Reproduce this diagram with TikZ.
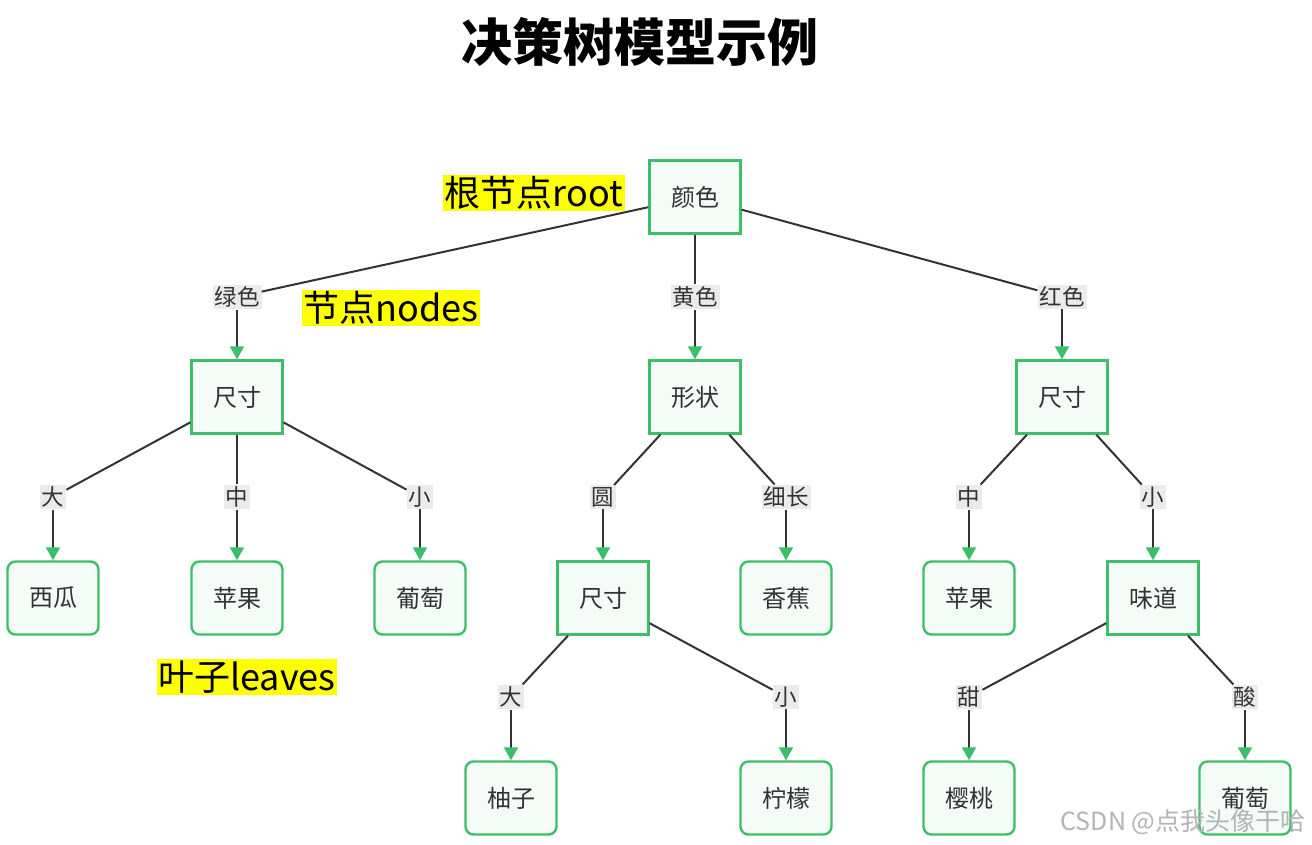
\documentclass[tikz,border=0pt]{standalone}
\usepackage{fontspec}
\setmainfont{Noto Sans CJK SC}
\usetikzlibrary{arrows.meta}
\definecolor{gline}{HTML}{3DBE6B}
\definecolor{nfill}{HTML}{F5FBF7}
\definecolor{lgray}{HTML}{EBEBEB}
\definecolor{dgray}{HTML}{333333}
\definecolor{hly}{HTML}{FFFF00}
\definecolor{wm}{HTML}{B4B4B4}
\begin{document}
\begin{tikzpicture}[x=1pt,y=-1pt,
  inner/.style={draw=gline, line width=2.4pt, fill=nfill, minimum width=91pt, minimum height=73pt, inner sep=0pt, font=\fontsize{24}{28}\selectfont, text=dgray},
  leaf/.style={inner, rounded corners=8pt},
  lab/.style={fill=lgray, inner sep=2pt, font=\fontsize{22.5}{26}\selectfont, text=dgray},
  hl/.style={fill=hly, inner sep=1.5pt, font=\fontsize{36}{40}\selectfont},
  conn/.style={draw=dgray, line width=2pt},
  arr/.style={conn, -{Triangle[length=13pt,width=14pt,color=gline]}}
]
\useasboundingbox[fill=white] (0,0) rectangle (1312,844);
\node[font=\fontsize{51}{58}\selectfont\bfseries] (title) at (640,42) {决策树模型示例};

% nodes
\node[inner] (root) at (695,197) {颜色};
\node[lab] (lg) at (237,297) {绿色};
\node[lab] (ly) at (695,297) {黄色};
\node[lab] (lr) at (1062,297) {红色};
\node[inner] (s1) at (237,397) {尺寸};
\node[inner] (sh) at (695,397) {形状};
\node[inner] (s3) at (1062,397) {尺寸};

\node[lab] (l1) at (53,497) {大};
\node[lab] (l2) at (237,497) {中};
\node[lab] (l3) at (420,497) {小};
\node[lab] (l4) at (603,497) {圆};
\node[lab] (l5) at (786,497) {细长};
\node[lab] (l6) at (969,497) {中};
\node[lab] (l7) at (1153,497) {小};

\node[leaf] (xg) at (53,598) {西瓜};
\node[leaf] (pg1) at (237,598) {苹果};
\node[leaf] (pt1) at (420,598) {葡萄};
\node[inner] (s2) at (603,598) {尺寸};
\node[leaf] (xj) at (786,598) {香蕉};
\node[leaf] (pg2) at (969,598) {苹果};
\node[inner] (wd) at (1153,598) {味道};

\node[lab] (m1) at (511,697) {大};
\node[lab] (m2) at (786,697) {小};
\node[lab] (m3) at (969,697) {甜};
\node[lab] (m4) at (1245,697) {酸};

\node[leaf] (yz) at (511,798) {柚子};
\node[leaf] (nm) at (786,798) {柠檬};
\node[leaf] (yt) at (969,798) {樱桃};
\node[leaf] (pt2) at (1245,798) {葡萄};

% connectors
\foreach \p/\l/\c in {root/lg/s1, root/ly/sh, root/lr/s3,
  s1/l1/xg, s1/l2/pg1, s1/l3/pt1, sh/l4/s2, sh/l5/xj, s3/l6/pg2, s3/l7/wd,
  s2/m1/yz, s2/m2/nm, wd/m3/yt, wd/m4/pt2}{
  \draw[conn] (\p) -- (\l);
  \draw[arr] (\l) -- (\c);
}

% highlighted annotations
\node[hl] (hroot) at (534,193) {根节点root};
\node[hl] (hnodes) at (391,308) {节点nodes};
\node[hl] (hleaves) at (247,677) {叶子leaves};

\node[text=wm, font=\fontsize{25}{28}\selectfont] (wmk) at (1183,822) {CSDN @点我头像干哈};
\end{tikzpicture}
\end{document}
